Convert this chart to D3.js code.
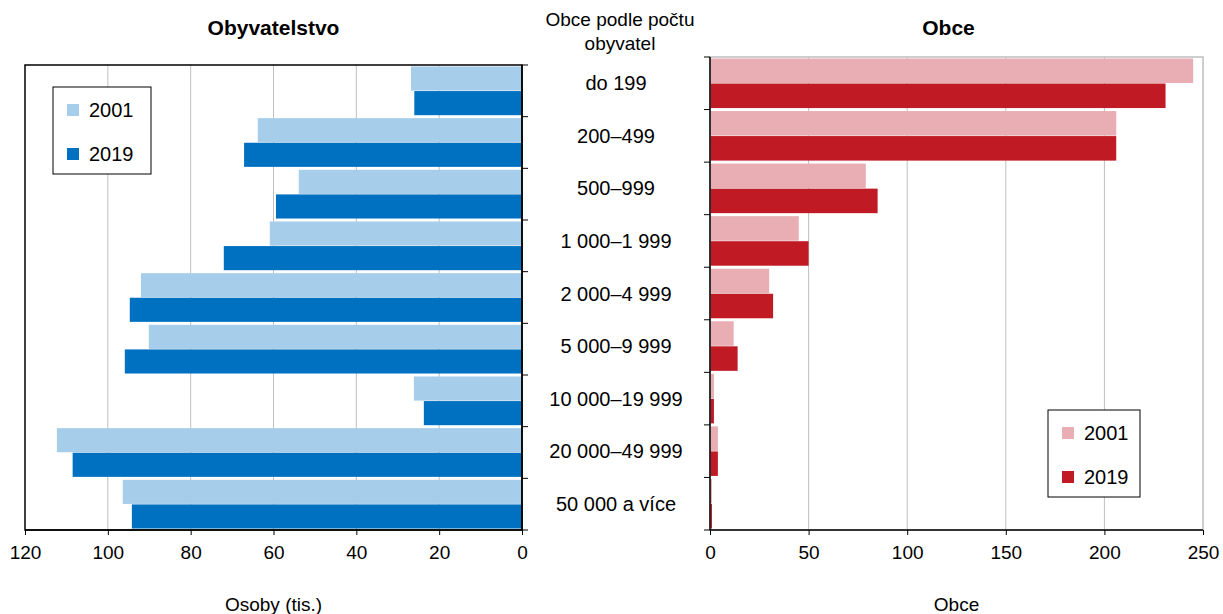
<!DOCTYPE html>
<html><head><meta charset="utf-8">
<script src="https://cdn.jsdelivr.net/npm/d3@7"></script>
<style>body{margin:0;background:#fff;font-family:Arial,"Liberation Sans",sans-serif}</style>
</head><body><svg width="1223" height="614"></svg>
<script>
const categories = ['do 199', '200–499', '500–999', '1 000–1 999', '2 000–4 999', '5 000–9 999', '10 000–19 999', '20 000–49 999', '50 000 a více'];
const pop2001 = [26.8, 63.8, 53.9, 60.9, 92, 90.1, 26.1, 112.3, 96.4];
const pop2019 = [26, 67.1, 59.4, 72, 94.7, 95.9, 23.7, 108.5, 94.2];
const obce2001 = [245, 206, 79, 45, 30, 12, 2, 4, 1];
const obce2019 = [231, 206, 85, 50, 32, 14, 2, 4, 1];
const years = ['2001', '2019'];

const svg = d3.select('svg');
const font = 'Arial, "Liberation Sans", sans-serif';

function panel(o) {
    const g = svg.append('g');
    const x = d3.scaleLinear().domain([0, o.max]).range(o.range);
    const y = d3.scaleBand().domain(categories).range([o.top, 530]);
    const sub = d3.scaleBand().domain(years).range([0, y.bandwidth()]).paddingInner(0.02).paddingOuter(0.06);
    const [x0, x1] = d3.extent(o.range);

    g.selectAll('.grid').data(o.ticks.filter(t => t > 0 && t < o.max)).enter().append('line')
        .attr('x1', d => x(d)).attr('x2', d => x(d)).attr('y1', o.top).attr('y2', 530)
        .attr('stroke', '#bfbfbf');

    categories.forEach((c, i) => {
        [o.a, o.b].forEach((arr, k) => {
            g.append('rect')
                .attr('x', Math.min(x(0), x(arr[i])))
                .attr('y', y(c) + sub(years[k]))
                .attr('width', Math.abs(x(arr[i]) - x(0)))
                .attr('height', sub.bandwidth())
                .attr('fill', o.colors[k]);
        });
    });

    g.append('rect').attr('x', x0).attr('y', o.top).attr('width', x1 - x0).attr('height', 530 - o.top)
        .attr('fill', 'none').attr('stroke', o.frame).attr('stroke-width', 1.5);

    // category tick marks on the zero side
    const zx = x(0);
    g.selectAll('.ct').data(d3.range(categories.length + 1)).enter().append('line')
        .attr('x1', zx).attr('x2', zx + o.tickDir * 6)
        .attr('y1', d => o.top + d * y.step()).attr('y2', d => o.top + d * y.step())
        .attr('stroke', '#000');
    g.append('line').attr('x1', zx).attr('x2', zx).attr('y1', o.top).attr('y2', 530).attr('stroke', '#000').attr('stroke-width', 1.5);
    g.append('line').attr('x1', x0).attr('x2', x1).attr('y1', 530).attr('y2', 530).attr('stroke', '#000').attr('stroke-width', 1.5);

    g.append('g').attr('transform', 'translate(0,530)')
        .call(d3.axisBottom(x).tickValues(o.ticks).tickSize(5).tickSizeOuter(0).tickFormat(d3.format('d')))
        .call(a => a.select('.domain').remove())
        .call(a => a.selectAll('text').attr('font-size', 19).attr('font-family', font).attr('fill', '#000').attr('dy', '1.1em'));

    g.append('text').attr('x', (x0 + x1) / 2 - o.titleShift).attr('y', 35).attr('text-anchor', 'middle')
        .attr('font-size', 21).attr('font-weight', 'bold').attr('font-family', font).text(o.title);
    g.append('text').attr('x', (x0 + x1) / 2).attr('y', 611).attr('text-anchor', 'middle')
        .attr('font-size', 19).attr('font-family', font).text(o.axisTitle);

    const lg = g.append('g').attr('transform', `translate(${o.legend[0]},${o.legend[1]})`);
    lg.append('rect').attr('width', o.legend[2]).attr('height', 87).attr('fill', '#fff').attr('stroke', '#000');
    years.forEach((yr, k) => {
        lg.append('rect').attr('x', 14).attr('y', 17 + k * 44).attr('width', 12).attr('height', 12).attr('fill', o.colors[k]);
        lg.append('text').attr('x', 36).attr('y', 30 + k * 44).attr('font-size', 20).attr('font-family', font).text(yr);
    });
    return y;
}

const yL = panel({ a: pop2001, b: pop2019, max: 120, range: [522, 25], top: 65, ticks: [0, 20, 40, 60, 80, 100, 120],
    colors: ['#a6cde9', '#0070c0'], frame: '#000', tickDir: 1, title: 'Obyvatelstvo', titleShift: 0,
    axisTitle: 'Osoby (tis.)', legend: [53, 87, 98] });
const yR = panel({ a: obce2001, b: obce2019, max: 250, range: [710, 1203], top: 57, ticks: [0, 50, 100, 150, 200, 250],
    colors: ['#e8aeb3', '#c01b25'], frame: '#bfbfbf', tickDir: -1, title: 'Obce', titleShift: 8,
    axisTitle: 'Obce', legend: [1048, 410, 92] });

svg.selectAll('.cat').data(categories).enter().append('text')
    .attr('x', 616).attr('y', d => yR(d) + yR.bandwidth() / 2 + 7).attr('text-anchor', 'middle')
    .attr('font-size', 20).attr('font-family', font).text(d => d);
svg.append('text').attr('x', 620).attr('y', 26).attr('text-anchor', 'middle').attr('font-size', 19).attr('font-family', font).text('Obce podle počtu');
svg.append('text').attr('x', 620).attr('y', 50).attr('text-anchor', 'middle').attr('font-size', 19).attr('font-family', font).text('obyvatel');
</script></body></html>
